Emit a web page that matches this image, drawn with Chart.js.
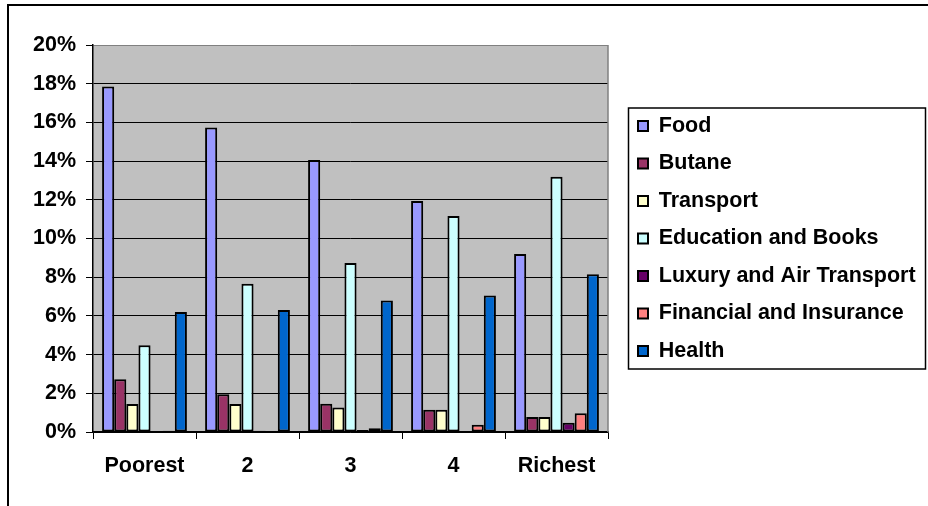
<!DOCTYPE html>
<html>
<head>
<meta charset="utf-8">
<script src="https://cdn.jsdelivr.net/npm/chart.js@4.4.1/dist/chart.umd.min.js"></script>
<style>
  html, body { margin: 0; padding: 0; background: #fff; }
  #wrap { width: 928px; height: 506px; }
</style>
</head>
<body>
<div id="wrap"><canvas id="spendChart" width="928" height="506"></canvas></div>
<script>
// Share of household spending by income quintile (%)
var quintiles = ['Poorest', '2', '3', '4', 'Richest'];

var food      = [17.85, 15.73, 14.06, 11.94, 9.2];
var butane    = [2.72, 1.95, 1.46, 1.15, 0.78];
var transport = [1.45, 1.45, 1.26, 1.15, 0.78];
var education = [4.48, 7.66, 8.73, 11.16, 13.19];
var luxury    = [0, 0.06, 0.1, 0.05, 0.48];
var financial = [0.06, 0.05, 0.2, 0.38, 0.97];
var health    = [6.2, 6.3, 6.79, 7.06, 8.15];

var yTicks = [0, 2, 4, 6, 8, 10, 12, 14, 16, 18, 20];

var colors = ['#9999ff', '#993366', '#ffffcc', '#ccffff', '#660066', '#ff8080', '#0066cc'];
var labelFont = { family: "'Liberation Sans', Arial, sans-serif", size: 21.5, weight: 'bold' };

function series(label, values, i) {
  return {
    label: label,
    data: values,
    backgroundColor: colors[i],
    borderColor: '#000',
    borderWidth: 2,
    borderSkipped: false,
    categoryPercentage: 7 / 8.5,
    barPercentage: 1
  };
}

// grey plot area, outer frame and the boxed legend
var framePlugin = {
  id: 'framePlugin',
  beforeDraw: function (chart) {
    var ctx = chart.ctx, a = chart.chartArea;
    ctx.save();
    ctx.fillStyle = '#fff';
    ctx.fillRect(0, 0, chart.width, chart.height);
    ctx.fillStyle = '#c0c0c0';
    ctx.fillRect(a.left, a.top, a.right - a.left, a.bottom - a.top);
    ctx.restore();
  },
  afterLayout: function (chart) {
    var lg = chart.legend;
    var w = lg.right - lg.left;
    lg.left = chart.chartArea.right + 14;
    lg.right = lg.left + w;
  },
  afterDraw: function (chart) {
    var ctx = chart.ctx, a = chart.chartArea;
    ctx.save();
    // right edge of plot area
    ctx.strokeStyle = '#808080';
    ctx.lineWidth = 1.5;
    ctx.beginPath();
    ctx.moveTo(a.right, a.top);
    ctx.lineTo(a.right, a.bottom);
    ctx.stroke();
    // legend box
    var cy = (a.top + a.bottom) / 2;
    ctx.strokeStyle = '#000';
    ctx.lineWidth = 1.5;
    ctx.strokeRect(a.right + 20.5, cy - 130.5, chart.width - a.right - 23, 261);
    // outer frame
    ctx.lineWidth = 2;
    ctx.beginPath();
    ctx.moveTo(8, chart.height);
    ctx.lineTo(8, 5);
    ctx.lineTo(chart.width, 5);
    ctx.stroke();
    ctx.restore();
  }
};

new Chart(document.getElementById('spendChart').getContext('2d'), {
  type: 'bar',
  data: {
    labels: quintiles,
    datasets: [
      series('Food', food, 0),
      series('Butane', butane, 1),
      series('Transport', transport, 2),
      series('Education and Books', education, 3),
      series('Luxury and Air Transport', luxury, 4),
      series('Financial and Insurance', financial, 5),
      series('Health', health, 6)
    ]
  },
  options: {
    responsive: false,
    animation: false,
    layout: { padding: { top: 45, right: 20, bottom: 0, left: 0 } },
    plugins: {
      tooltip: { enabled: false },
      legend: {
        position: 'right',
        fullSize: false,
        maxWidth: 300,
        labels: {
          color: '#000',
          font: labelFont,
          boxWidth: 10,
          boxHeight: 10,
          padding: 16
        }
      }
    },
    scales: {
      x: {
        afterFit: function (s) { s.height = 74; },
        grid: { offset: true, drawOnChartArea: false, color: '#000', tickLength: 7 },
        border: { color: '#000', width: 1.5 },
        ticks: { color: '#000', font: labelFont, padding: 14, maxRotation: 0 }
      },
      y: {
        min: 0,
        max: 20,
        afterFit: function (s) { s.width = 93; },
        afterBuildTicks: function (s) {
          s.ticks = yTicks.map(function (v) { return { value: v }; });
        },
        grid: {
          color: function (c) { return c.tick && c.tick.value === 20 ? '#808080' : '#000'; },
          tickColor: '#000',
          tickLength: 7
        },
        border: { color: '#000', width: 1.5 },
        ticks: {
          color: '#000',
          font: labelFont,
          padding: 10,
          callback: function (v) { return v + '%'; }
        }
      }
    }
  },
  plugins: [framePlugin]
});
</script>
</body>
</html>
